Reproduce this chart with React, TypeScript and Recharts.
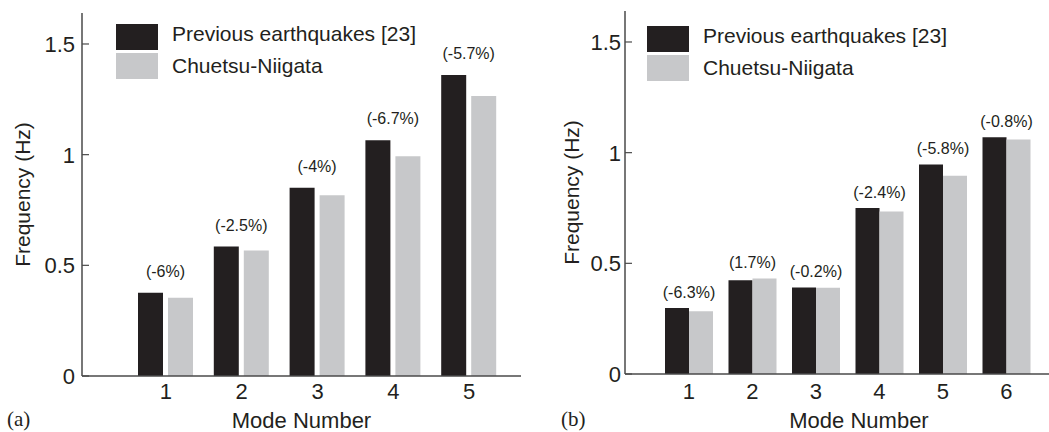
import React from "react";
import { BarChart, Bar, XAxis, YAxis, Legend, LabelList } from "recharts";

// panel (a)
const modesA = ["1", "2", "3", "4", "5"];
const previousA = [0.376, 0.585, 0.851, 1.065, 1.36];
const chuetsuA = [0.353, 0.567, 0.817, 0.993, 1.265];
const changeA = ["(-6%)", "(-2.5%)", "(-4%)", "(-6.7%)", "(-5.7%)"];

// panel (b)
const modesB = ["1", "2", "3", "4", "5", "6"];
const previousB = [0.298, 0.423, 0.391, 0.75, 0.947, 1.07];
const chuetsuB = [0.284, 0.432, 0.39, 0.734, 0.896, 1.06];
const changeB = ["(-6.3%)", "(1.7%)", "(-0.2%)", "(-2.4%)", "(-5.8%)", "(-0.8%)"];

const yTicks = [0, 0.5, 1, 1.5];
const seriesOrder = ["prev", "chu"];

const BLACK = "#231f20";
const GRAY = "#c7c8ca";
const AXIS = "#4a4a4a";
const FONT = "'Liberation Sans', Arial, Helvetica, sans-serif";

const buildRows = (modes: string[], prev: number[], chu: number[], change: string[]) =>
    modes.map((m, i) => ({ mode: m, prev: prev[i], chu: chu[i], change: change[i] }));

const rowsA = buildRows(modesA, previousA, chuetsuA, changeA);
const rowsB = buildRows(modesB, previousB, chuetsuB, changeB);

// text above each pair, centred on the pair, over the taller bar
const changeLabel = (prev: number[], chu: number[], change: string[], gap: number, lift: number) => (props: any) => {
    const { x, y, width, height, index } = props;
    const bottom = y + height;
    const grayTop = bottom - (height * chu[index]) / prev[index];
    const top = Math.min(y, grayTop);
    return (
        <text x={x + width + gap / 2} y={top - lift} textAnchor="middle" fontSize={16} fill={BLACK} fontFamily={FONT}>
            {change[index]}
        </text>
    );
};

// y tick with an inward tick mark (matlab style)
const inwardTick = (margin: number) => (props: any) => {
    const { x, y, payload } = props;
    const axisX = x + margin;
    return (
        <g>
            <line x1={axisX} x2={axisX + 7} y1={y} y2={y} stroke={AXIS} strokeWidth={1.2} />
            <text x={x} y={y} dy="0.36em" textAnchor="end" fontSize={22} fill={BLACK} fontFamily={FONT}>
                {String(payload.value)}
            </text>
        </g>
    );
};

const LegendContent = (props: any) => {
    const items = [...(props.payload || [])].sort(
        (a: any, b: any) => seriesOrder.indexOf(a.dataKey) - seriesOrder.indexOf(b.dataKey)
    );
    return (
        <div style={{ fontFamily: FONT, fontSize: 21, color: BLACK }}>
            {items.map((item: any, i: number) => (
                <div key={i} style={{ display: "flex", alignItems: "center", height: 28.5 }}>
                    <div style={{ width: 42, height: 26, background: item.color, marginRight: 14 }} />
                    <span style={{ position: "relative", top: i === 0 ? -3 : 0, whiteSpace: "nowrap" }}>{item.value}</span>
                </div>
            ))}
        </div>
    );
};

function Panel(props: {
    rows: any[];
    prev: number[];
    chu: number[];
    change: string[];
    width: number;
    top: number;
    axisWidth: number;
    xHeight: number;
    padding: { left: number; right: number };
    barSize: number;
    barGap: number;
    lift: number;
    tickMargin: number;
    xTickMargin: number;
    labelOffset: number;
    legendLeft: number;
    legendTop: number;
    rightBorder: boolean;
}) {
    const p = props;
    return (
        <BarChart
            width={p.width}
            height={432}
            data={p.rows}
            margin={{ top: p.top, right: p.rightBorder ? 1 : 0, left: 0, bottom: 0 }}
            barGap={p.barGap}
        >
            <XAxis
                dataKey="mode"
                height={p.xHeight}
                padding={p.padding}
                tickLine={false}
                tickSize={0}
                tickMargin={p.xTickMargin}
                axisLine={{ stroke: AXIS, strokeWidth: 1.5 }}
                tick={{ fill: BLACK, fontSize: 22, fontFamily: FONT }}
                label={{ value: "Mode Number", position: "insideBottom", offset: 4, fill: BLACK, fontSize: 22, fontFamily: FONT }}
            />
            <XAxis xAxisId="top" orientation="top" dataKey="mode" height={0} tick={false} tickLine={false} axisLine={{ stroke: AXIS, strokeWidth: 1.5 }} />
            <YAxis
                type="number"
                domain={[0, 1.64]}
                ticks={yTicks}
                interval={0}
                width={p.axisWidth}
                tickSize={0}
                tickMargin={p.tickMargin}
                tickLine={false}
                axisLine={{ stroke: AXIS, strokeWidth: 1.5 }}
                tick={inwardTick(p.tickMargin)}
                label={{
                    value: "Frequency (Hz)",
                    angle: -90,
                    position: "insideLeft",
                    offset: p.labelOffset,
                    fill: BLACK,
                    fontSize: 21,
                    fontFamily: FONT,
                    style: { textAnchor: "middle" },
                }}
            />
            {p.rightBorder && (
                <YAxis yAxisId="right" orientation="right" width={0} tick={false} tickLine={false} axisLine={{ stroke: AXIS, strokeWidth: 1.5 }} />
            )}
            <Legend
                layout="horizontal"
                align="center"
                verticalAlign="middle"
                content={<LegendContent />}
                wrapperStyle={{ left: p.legendLeft, top: p.legendTop, width: "auto", height: "auto" }}
            />
            <Bar dataKey="prev" name="Previous earthquakes [23]" fill={BLACK} barSize={p.barSize} isAnimationActive={false}>
                <LabelList dataKey="change" content={changeLabel(p.prev, p.chu, p.change, p.barGap, p.lift)} />
            </Bar>
            <Bar dataKey="chu" name="Chuetsu-Niigata" fill={GRAY} barSize={p.barSize} isAnimationActive={false} />
        </BarChart>
    );
}

export default function App() {
    return (
        <div style={{ position: "fixed", left: 0, top: 0, width: 1049, height: 432, overflow: "hidden", background: "#fff" }}>
            <div style={{ position: "absolute", left: 0, top: 0 }}>
                <Panel
                    rows={rowsA}
                    prev={previousA}
                    chu={chuetsuA}
                    change={changeA}
                    width={522}
                    top={13}
                    axisWidth={82}
                    xHeight={56}
                    padding={{ left: 46, right: 14 }}
                    barSize={25}
                    barGap={5}
                    lift={16}
                    tickMargin={7}
                    xTickMargin={7}
                    labelOffset={23}
                    legendLeft={116}
                    legendTop={23}
                    rightBorder={true}
                />
            </div>
            <div style={{ position: "absolute", left: 520, top: 0 }}>
                <Panel
                    rows={rowsB}
                    prev={previousB}
                    chu={chuetsuB}
                    change={changeB}
                    width={573}
                    top={11}
                    axisWidth={105}
                    xHeight={58}
                    padding={{ left: 32, right: 55 }}
                    barSize={24}
                    barGap={0}
                    lift={10}
                    tickMargin={4}
                    xTickMargin={9}
                    labelOffset={52}
                    legendLeft={127}
                    legendTop={25}
                    rightBorder={false}
                />
            </div>
            <div style={{ position: "absolute", left: 7, top: 407, fontFamily: "'Liberation Serif', 'Times New Roman', serif", fontSize: 21, color: BLACK }}>
                (a)
            </div>
            <div style={{ position: "absolute", left: 561, top: 407, fontFamily: "'Liberation Serif', 'Times New Roman', serif", fontSize: 21, color: BLACK }}>
                (b)
            </div>
        </div>
    );
}
